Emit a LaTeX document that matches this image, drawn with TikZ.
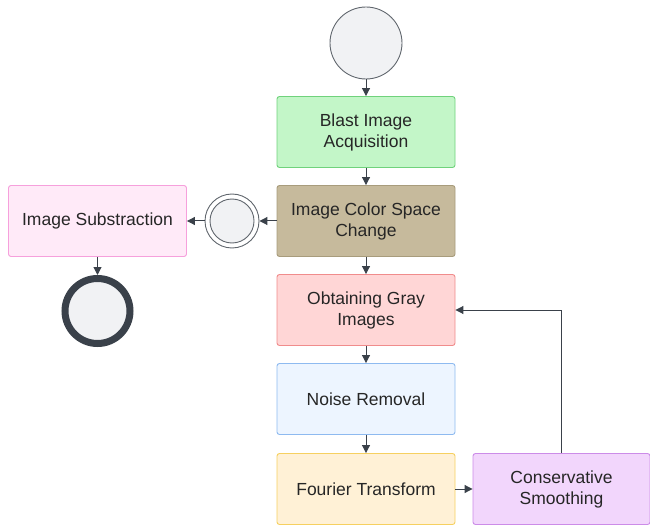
\documentclass[tikz,border=0pt]{standalone}
\usepackage{fontspec}
\setmainfont{Liberation Sans}
\usetikzlibrary{arrows.meta}
\definecolor{linec}{HTML}{3A414A}
\definecolor{circfill}{HTML}{F1F2F4}
\tikzset{
  x=1pt, y=-1pt,
  box/.style={draw, line width=0.9pt, rounded corners=2.5pt, minimum width=178pt, minimum height=71pt,
    align=center, font=\fontsize{17.5}{21}\selectfont, text=black!85},
  conn/.style={draw=linec, line width=1pt, -{Triangle[length=8pt,width=8pt]}},
}
\begin{document}
\begin{tikzpicture}
\useasboundingbox (0,0) rectangle (650,529);
\node[circle, draw=linec!80, fill=circfill, line width=0.9pt, minimum size=72pt, inner sep=0] (start) at (366,43) {};
\node[box, draw=green!60!black!50, fill={rgb,255:red,195;green,246;blue,200}, draw={rgb,255:red,112;green,210;blue,124}] (blast) at (366,132) {Blast Image\\Acquisition};
\node[box, fill={rgb,255:red,198;green,186;blue,156}, draw={rgb,255:red,168;green,156;blue,124}] (color) at (366,221) {Image Color Space\\Change};
\node[box, fill={rgb,255:red,255;green,214;blue,214}, draw={rgb,255:red,240;green,140;blue,140}] (gray) at (366,310) {Obtaining Gray\\Images};
\node[box, fill={rgb,255:red,237;green,245;blue,255}, draw={rgb,255:red,142;green,186;blue,240}] (noise) at (366,399) {Noise Removal};
\node[box, fill={rgb,255:red,255;green,241;blue,214}, draw={rgb,255:red,246;green,208;blue,96}] (fourier) at (366,489) {Fourier Transform};
\node[box, minimum width=177pt, fill={rgb,255:red,242;green,214;blue,252}, draw={rgb,255:red,204;green,140;blue,232}] (smooth) at (561.5,489) {Conservative\\Smoothing};
\node[box, fill={rgb,255:red,255;green,234;blue,248}, draw={rgb,255:red,246;green,160;blue,220}] (subs) at (97.5,221) {Image Substraction};
\node[circle, draw=linec!80, fill=white, line width=0.9pt, minimum size=54pt, inner sep=0] (merge) at (232,221) {};
\node[circle, draw=linec!80, fill=circfill, line width=0.9pt, minimum size=44pt, inner sep=0] at (merge) {};
\node[circle, draw=linec, fill=circfill, line width=7pt, minimum size=65pt, inner sep=0] (stop) at (97.5,311) {};
\draw[conn] (start) -- (blast);
\draw[conn] (blast) -- (color);
\draw[conn] (color) -- (gray);
\draw[conn] (gray) -- (noise);
\draw[conn] (noise) -- (fourier);
\draw[conn] (fourier) -- (smooth);
\draw[conn] (smooth.north) |- (gray.east);
\draw[conn] (color) -- (merge);
\draw[conn] (merge) -- (subs);
\draw[conn] (subs) -- (stop);
\end{tikzpicture}
\end{document}
